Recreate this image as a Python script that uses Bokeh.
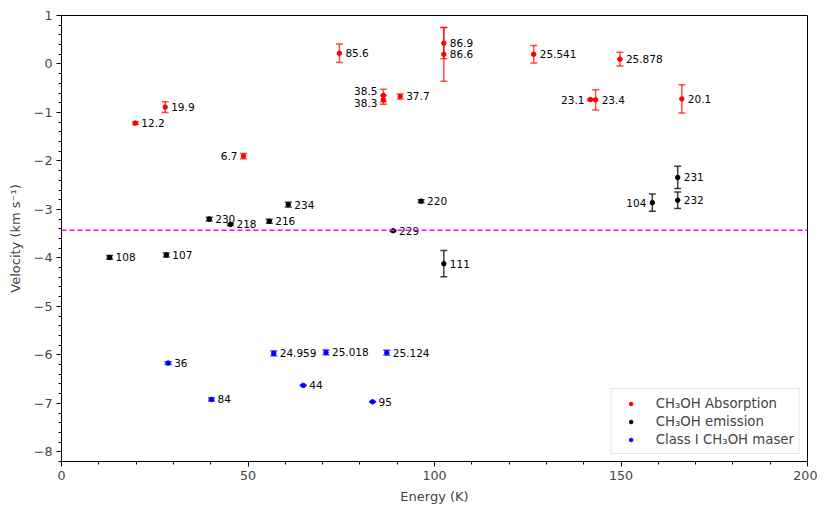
from bokeh.plotting import figure
from bokeh.models import ColumnDataSource, Whisker, TeeHead, Span, Legend, LegendItem, CustomJSTickFormatter, Range1d, FixedTicker
from bokeh.core.properties import value
from bokeh.embed import file_html
from bokeh.resources import INLINE

# Absorption (red)
abs_energy = [19.8, 27.8, 48.8, 74.5, 86.3, 86.3, 90.8, 102.5, 102.5, 126.6, 149.7, 141.8, 143.2, 166.3]
abs_vel = [-1.22, -0.89, -1.90, 0.22, -0.65, -0.74, -0.67, 0.43, 0.20, 0.20, 0.10, -0.735, -0.74, -0.72]
abs_err = [0.03, 0.11, 0.055, 0.19, 0.13, 0.09, 0.05, 0.32, 0.555, 0.18, 0.14, 0.02, 0.21, 0.29]
abs_lab = ["12.2", "19.9", "6.7", "85.6", "38.5", "38.3", "37.7", "86.9", "86.6", "25.541", "25.878", "23.1", "23.4", "20.1"]
abs_side = ["r", "r", "l", "r", "l", "l", "r", "r", "r", "r", "r", "l", "r", "r"]
abs_dy = [0, 0, 0, 0, -4, 3, 0, 0, 0, 0, 0, 0, 0, 0]

# Emission (black)
em_energy = [12.9, 28.1, 39.6, 45.3, 55.7, 60.8, 88.9, 96.4, 102.5, 158.4, 165.2, 165.2]
em_vel = [-3.99, -3.94, -3.20, -3.31, -3.245, -2.90, -3.44, -2.83, -4.12, -2.86, -2.34, -2.81]
em_err = [0.04, 0.04, 0.04, 0.02, 0.04, 0.05, 0.015, 0.03, 0.27, 0.18, 0.23, 0.17]
em_lab = ["108", "107", "230", "218", "216", "234", "229", "220", "111", "104", "231", "232"]
em_side = ["r", "r", "r", "r", "r", "r", "r", "r", "r", "l", "r", "r"]
em_dy = [0, 0, 0, 0, 0, 0, 0, 0, 0, 0, 0, 0]

# Class I maser (blue)
ms_energy = [28.6, 40.2, 56.9, 64.8, 70.9, 83.4, 87.2]
ms_vel = [-6.17, -6.92, -5.97, -6.63, -5.95, -6.97, -5.955]
ms_err = [0.03, 0.03, 0.05, 0.01, 0.05, 0.01, 0.05]
ms_lab = ["36", "84", "24.959", "44", "25.018", "95", "25.124"]
ms_side = ["r", "r", "r", "r", "r", "r", "r"]
ms_dy = [0, 0, 0, 0, 0, 0, 0]

ref_velocity = -3.43

FONT = "DejaVu Sans"

p = figure(frame_width=746, frame_height=446, output_backend="svg", toolbar_location=None,
           x_range=Range1d(0, 200), y_range=Range1d(-8.2, 1),
           min_border_left=61, min_border_right=10, min_border_top=15, min_border_bottom=45)
p.background_fill_color = "white"
p.border_fill_color = "white"
p.outline_line_color = "black"
p.outline_line_width = 1
p.xgrid.visible = False
p.ygrid.visible = False

fmt = CustomJSTickFormatter(code="return String(tick).replace('-', '\u2212');")
for ax in (p.xaxis[0], p.yaxis[0]):
    ax.major_label_text_font = FONT
    ax.major_label_text_font_size = "12.7px"
    ax.axis_label_text_font = FONT
    ax.axis_label_text_font_size = "13px"
    ax.axis_label_text_font_style = "normal"
    ax.major_tick_out = 5
    ax.major_tick_in = 0
    ax.minor_tick_out = 3
    ax.minor_tick_in = 0
    ax.axis_line_color = "black"
    ax.major_tick_line_color = "black"
    ax.minor_tick_line_color = "black"
    ax.formatter = fmt
p.xaxis.axis_label = "Energy (K)"
p.yaxis.axis_label = "Velocity (km s\u207b\u00b9)"
p.xaxis.ticker = FixedTicker(ticks=[0, 50, 100, 150, 200], minor_ticks=list(range(0, 201, 10)))
p.yaxis.ticker = FixedTicker(ticks=list(range(-8, 2)), minor_ticks=[round(-8.2 + 0.2 * i, 1) for i in range(47)])
p.xaxis.axis_label_standoff = 6
p.yaxis.axis_label_standoff = 8
p.xaxis.major_label_standoff = 4
p.yaxis.major_label_standoff = 4

p.add_layout(Span(location=ref_velocity, dimension="width", line_color="#ff00ff",
                  line_dash="5 3", line_width=1.5))

def add_series(xs, ys, es, labs, sides, dys, color, alpha):
    src = ColumnDataSource(dict(
        x=xs, y=ys,
        lo=[y - e for y, e in zip(ys, es)],
        hi=[y + e for y, e in zip(ys, es)],
        text=labs,
        align=["left" if s == "r" else "right" for s in sides],
        xo=[6 if s == "r" else -6 for s in sides],
        yo=dys,
    ))
    w = Whisker(source=src, base="x", lower="lo", upper="hi", dimension="height",
                line_color=color, line_alpha=alpha, line_width=1.5,
                upper_head=TeeHead(size=7, line_color=color, line_alpha=alpha, line_width=1.5),
                lower_head=TeeHead(size=7, line_color=color, line_alpha=alpha, line_width=1.5))
    p.add_layout(w)
    p.scatter("x", "y", source=src, size=4.5, color=color)
    p.text("x", "y", text="text", source=src, x_offset="xo", y_offset="yo",
           text_align="align", text_baseline="middle", text_font=value(FONT),
           text_font_size="10.5px", text_color="black")
    # small marker (drawn over an existing point) used for the legend symbol
    return p.scatter([xs[0]], [ys[0]], size=3, color=color)

r1 = add_series(abs_energy, abs_vel, abs_err, abs_lab, abs_side, abs_dy, "red", 0.7)
r2 = add_series(em_energy, em_vel, em_err, em_lab, em_side, em_dy, "black", 0.75)
r3 = add_series(ms_energy, ms_vel, ms_err, ms_lab, ms_side, ms_dy, "blue", 0.75)

legend = Legend(items=[
    LegendItem(label="CH\u2083OH Absorption", renderers=[r1]),
    LegendItem(label="CH\u2083OH emission", renderers=[r2]),
    LegendItem(label="Class I CH\u2083OH maser", renderers=[r3]),
], location="bottom_right")
legend.label_text_font = FONT
legend.label_text_font_size = "13.3px"
legend.border_line_color = "#cccccc"
legend.border_line_width = 1
legend.background_fill_alpha = 0.9
legend.margin = 7
legend.padding = 5
legend.spacing = 0
legend.glyph_width = 28
legend.glyph_height = 9
legend.label_standoff = 11
legend.label_height = 18
p.add_layout(legend)

open("out.html", "w").write(file_html(p, INLINE))
